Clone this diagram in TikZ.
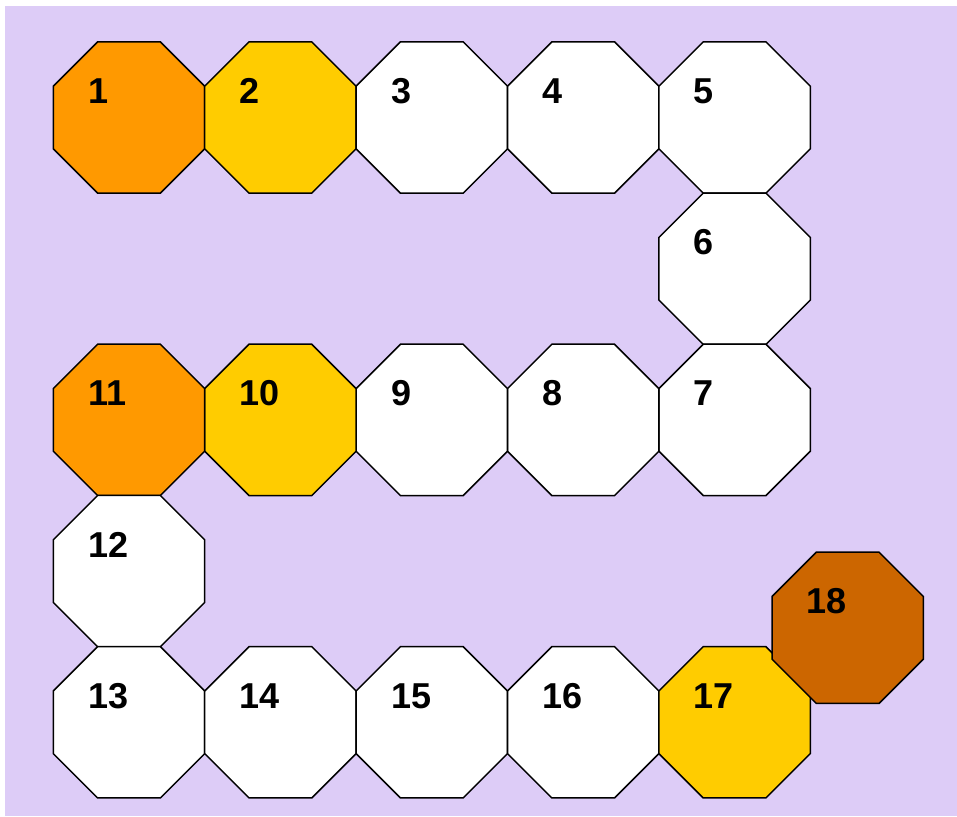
\documentclass[tikz,border=0pt]{standalone}
\usepackage{fontspec}
\setmainfont{Liberation Sans}
\usetikzlibrary{shapes.geometric}
\definecolor{bgl}{HTML}{DDCCF7}
\definecolor{cor}{HTML}{FF9900}
\definecolor{cye}{HTML}{FFCC00}
\definecolor{cbr}{HTML}{CC6600}
\tikzset{
  oct/.style={regular polygon, regular polygon sides=8, minimum size=163.8pt, inner sep=0pt, draw=black, line width=1.5pt, fill=white},
  lbl/.style={anchor=west, inner sep=0pt, font=\fontsize{36}{36}\selectfont\bfseries}
}
\begin{document}
\begin{tikzpicture}[x=1pt,y=-1pt]
\useasboundingbox (0,0) rectangle (957,816);
\fill[bgl] (5,6) rectangle (957,816);
\node[oct,fill=cor] (o1) at (129,117.5) {};
\node[oct,fill=cye] (o2) at (280.4,117.5) {};
\node[oct] (o3) at (431.8,117.5) {};
\node[oct] (o4) at (583.2,117.5) {};
\node[oct] (o5) at (734.6,117.5) {};
\node[oct] (o6) at (734.6,268.7) {};
\node[oct] (o7) at (734.6,419.9) {};
\node[oct] (o8) at (583.2,419.9) {};
\node[oct] (o9) at (431.8,419.9) {};
\node[oct,fill=cye] (o10) at (280.4,419.9) {};
\node[oct,fill=cor] (o11) at (129,419.9) {};
\node[oct] (o12) at (129,571.1) {};
\node[oct] (o13) at (129,722.3) {};
\node[oct] (o14) at (280.4,722.3) {};
\node[oct] (o15) at (431.8,722.3) {};
\node[oct] (o16) at (583.2,722.3) {};
\node[oct,fill=cye] (o17) at (734.6,722.3) {};
\node[oct,fill=cbr] (o18) at (847.7,627.8) {};
\foreach \i in {1,...,18}{
  \node[lbl] (t\i) at ([shift={(-41,-26.5)}]o\i.center) {\i};
}
\end{tikzpicture}
\end{document}
